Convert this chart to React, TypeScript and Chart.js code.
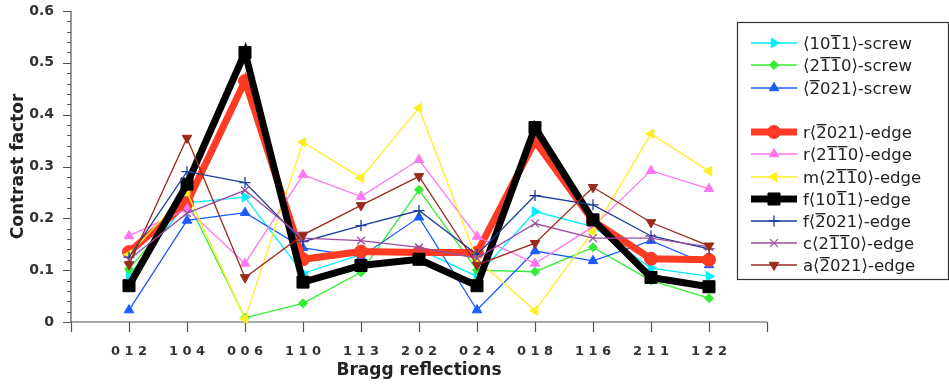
import React, { useEffect, useRef } from 'react';
import { Chart, registerables } from 'chart.js';
import { drawPoint } from 'chart.js/helpers';
Chart.register(...registerables);

// ---- data ----
const categories = ['012', '104', '006', '110', '113', '202', '024', '018', '116', '211', '122'];
const yTickValues = [0, 0.1, 0.2, 0.3, 0.4, 0.5, 0.6];
const yTickLabels = ['0', '0.1', '0.2', '0.3', '0.4', '0.5', '0.6'];

const screw1011 = [0.090, 0.230, 0.241, 0.094, 0.130, 0.140, 0.088, 0.213, 0.184, 0.104, 0.088];
const screw2110 = [0.102, 0.235, 0.008, 0.036, 0.096, 0.255, 0.100, 0.097, 0.144, 0.080, 0.046];
const screw2021 = [0.023, 0.196, 0.211, 0.143, 0.126, 0.202, 0.023, 0.137, 0.118, 0.157, 0.110];
const edgeR2021 = [0.135, 0.230, 0.465, 0.121, 0.136, 0.134, 0.134, 0.349, 0.195, 0.122, 0.120];
const edgeR2110 = [0.166, 0.218, 0.113, 0.284, 0.242, 0.313, 0.165, 0.113, 0.184, 0.292, 0.257];
const edgeM2110 = [0.130, 0.250, 0.006, 0.347, 0.278, 0.413, 0.120, 0.022, 0.175, 0.363, 0.291];
const edgeF1011 = [0.070, 0.266, 0.520, 0.077, 0.109, 0.121, 0.070, 0.375, 0.197, 0.086, 0.068];
const edgeF2021 = [0.125, 0.290, 0.269, 0.155, 0.186, 0.215, 0.130, 0.244, 0.226, 0.166, 0.141];
const edgeC2110 = [0.120, 0.210, 0.254, 0.162, 0.157, 0.144, 0.123, 0.190, 0.162, 0.162, 0.145];
const edgeA2021 = [0.111, 0.355, 0.086, 0.168, 0.225, 0.281, 0.110, 0.152, 0.260, 0.192, 0.147];

const seriesLabels = [
  '\u27E8101\u03051\u27E9-screw',
  '\u27E821\u03051\u03050\u27E9-screw',
  '\u27E82\u0305021\u27E9-screw',
  'r\u27E82\u0305021\u27E9-edge',
  'r\u27E821\u03051\u03050\u27E9-edge',
  'm\u27E821\u03051\u03050\u27E9-edge',
  'f\u27E8101\u03051\u27E9-edge',
  'f\u27E82\u0305021\u27E9-edge',
  'c\u27E821\u03051\u03050\u27E9-edge',
  'a\u27E82\u0305021\u27E9-edge',
];
const seriesValues = [screw1011, screw2110, screw2021, edgeR2021, edgeR2110, edgeM2110, edgeF1011, edgeF2021, edgeC2110, edgeA2021];

// ---- styles ----
const styles = [
  { color: '#00eeff', style: 'triangle', rot: 90, r: 5.5, w: 1.3 },
  { color: '#33ee33', style: 'rectRot', rot: 0, r: 4.5, w: 1.3 },
  { color: '#1a5cff', style: 'triangle', rot: 0, r: 5.5, w: 1.3 },
  { color: '#ff3b24', style: 'circle', rot: 0, r: 6.5, w: 7 },
  { color: '#ff77ee', style: 'triangle', rot: 0, r: 5.5, w: 1.3 },
  { color: '#ffee22', style: 'triangle', rot: -90, r: 5.5, w: 1.3 },
  { color: '#000000', style: 'rect', rot: 0, r: 8.5, w: 7 },
  { color: '#1a3d99', style: 'cross', rot: 0, r: 5.5, w: 1.3 },
  { color: '#9c4da0', style: 'crossRot', rot: 0, r: 5.5, w: 1.3 },
  { color: '#992b1a', style: 'triangle', rot: 180, r: 5.5, w: 1.3 },
];

const FONT = "'DejaVu Sans', 'Noto Sans', sans-serif";

function drawOverlined(ctx: CanvasRenderingContext2D, text: string, x: number, y: number, top: number) {
  const chars = Array.from(text);
  let cx = x;
  for (let i = 0; i < chars.length; i++) {
    const c = chars[i];
    if (c === '\u0305') continue;
    const w = ctx.measureText(c).width;
    ctx.fillText(c, cx, y);
    if (chars[i + 1] === '\u0305') {
      ctx.fillRect(cx + 0.3, y - top, w - 0.6, 1.3);
    }
    cx += w;
  }
}

function drawPt(ctx: CanvasRenderingContext2D, s: any, x: number, y: number) {
  ctx.save();
  ctx.fillStyle = s.color;
  ctx.strokeStyle = s.color;
  const bw = s.style === 'cross' || s.style === 'crossRot' ? 1.3 : 1;
  ctx.lineWidth = bw;
  drawPoint(ctx, { pointStyle: s.style, rotation: s.rot, radius: s.r, borderWidth: bw } as any, x, y);
  ctx.restore();
}

const axesPlugin = {
  id: 'customAxes',
  beforeDatasetsDraw(chart: any) {
    const ctx = chart.ctx as CanvasRenderingContext2D;
    const xs = chart.scales.x;
    const ys = chart.scales.y;
    const x0 = xs.getPixelForValue(0);
    const x1 = xs.getPixelForValue(categories.length + 1);
    const yb = ys.getPixelForValue(0);
    const yt = ys.getPixelForValue(0.6);
    ctx.save();
    ctx.strokeStyle = '#555';
    ctx.lineWidth = 1.2;
    ctx.beginPath();
    ctx.moveTo(x0, yt);
    ctx.lineTo(x0, yb);
    ctx.lineTo(x1, yb);
    ctx.stroke();
    ctx.beginPath();
    for (let i = 0; i <= categories.length + 1; i++) {
      const px = Math.round(xs.getPixelForValue(i)) + 0.5;
      ctx.moveTo(px, yb);
      ctx.lineTo(px, yb + 10);
    }
    for (let k = 0; k <= 30; k++) {
      const v = k * 0.02;
      const py = Math.round(ys.getPixelForValue(v)) + 0.5;
      const len = k % 5 === 0 ? 8 : 4;
      ctx.moveTo(x0, py);
      ctx.lineTo(x0 - len, py);
    }
    ctx.stroke();
    ctx.fillStyle = '#333';
    ctx.font = `bold 14px ${FONT}`;
    ctx.textAlign = 'right';
    ctx.textBaseline = 'middle';
    yTickValues.forEach((v, i) => {
      ctx.fillText(yTickLabels[i], 54, ys.getPixelForValue(v));
    });
    ctx.textAlign = 'center';
    ctx.font = `bold 13px ${FONT}`;
    categories.forEach((c, i) => {
      ctx.fillText(c.split('').join(' '), xs.getPixelForValue(i + 1), yb + 30);
    });
    ctx.fillStyle = '#222';
    ctx.font = `bold 17px ${FONT}`;
    ctx.fillText('Bragg reflections', (x0 + x1) / 2, yb + 49);
    ctx.save();
    ctx.translate(19, (yt + yb) / 2);
    ctx.rotate(-Math.PI / 2);
    ctx.fillText('Contrast factor', 0, 0);
    ctx.restore();
    ctx.restore();
  },
  afterDraw(chart: any) {
    const ctx = chart.ctx as CanvasRenderingContext2D;
    ctx.save();
    const bx = 737.5, by = 22.5, bw = 211, bh = 257;
    ctx.fillStyle = '#fff';
    ctx.fillRect(bx, by, bw, bh);
    ctx.strokeStyle = '#333';
    ctx.lineWidth = 1.2;
    ctx.strokeRect(bx, by, bw, bh);
    const rowYs = [43, 65, 88, 132, 154, 177, 199, 221, 243, 265];
    ctx.font = `16.5px ${FONT}`;
    ctx.textAlign = 'left';
    ctx.textBaseline = 'alphabetic';
    seriesLabels.forEach((lab, i) => {
      const s = styles[i];
      const y = rowYs[i];
      ctx.strokeStyle = s.color;
      ctx.lineWidth = s.w;
      ctx.beginPath();
      ctx.moveTo(751, y);
      ctx.lineTo(797, y);
      ctx.stroke();
      drawPt(ctx, s, 774, y);
      ctx.fillStyle = '#222';
      drawOverlined(ctx, lab, 803, y + 6, 14);
    });
    ctx.restore();
  },
};

export default function App() {
  const ref = useRef<HTMLCanvasElement>(null);
  useEffect(() => {
    if (!ref.current) return;
    const n = seriesValues.length;
    const datasets = seriesValues.map((vals, i) => {
      const s = styles[i];
      return {
        label: seriesLabels[i],
        data: vals.map((v, j) => ({ x: j + 1, y: v })),
        borderColor: s.color,
        backgroundColor: s.color,
        borderWidth: s.w,
        pointStyle: s.style,
        pointRotation: s.rot,
        pointRadius: s.r,
        pointBorderWidth: s.style === 'cross' || s.style === 'crossRot' ? 1.3 : 1,
        pointBorderColor: s.color,
        pointBackgroundColor: s.color,
        tension: 0,
        order: n - i,
        clip: false as any,
      };
    });
    const chart = new Chart(ref.current, {
      type: 'line',
      data: { datasets },
      options: {
        animation: false,
        responsive: false,
        devicePixelRatio: 1,
        layout: { padding: { top: 11, right: 182, left: 0, bottom: 0 } },
        plugins: { legend: { display: false }, tooltip: { enabled: false } },
        scales: {
          x: {
            type: 'linear',
            min: 0,
            max: 12,
            grid: { display: false },
            border: { display: false },
            ticks: { display: false },
            afterFit: (sc: any) => { sc.height = 63; },
          },
          y: {
            type: 'linear',
            min: 0,
            max: 0.6,
            grid: { display: false },
            border: { display: false },
            ticks: { display: false },
            afterFit: (sc: any) => { sc.width = 71; },
          },
        },
      },
      plugins: [axesPlugin],
    });
    return () => chart.destroy();
  }, []);
  return (
    <div style={{ position: 'fixed', left: 0, top: 0, width: 949, height: 385, background: '#fff' }}>
      <canvas ref={ref} width={949} height={385} style={{ width: 949, height: 385, display: 'block' }} />
    </div>
  );
}
